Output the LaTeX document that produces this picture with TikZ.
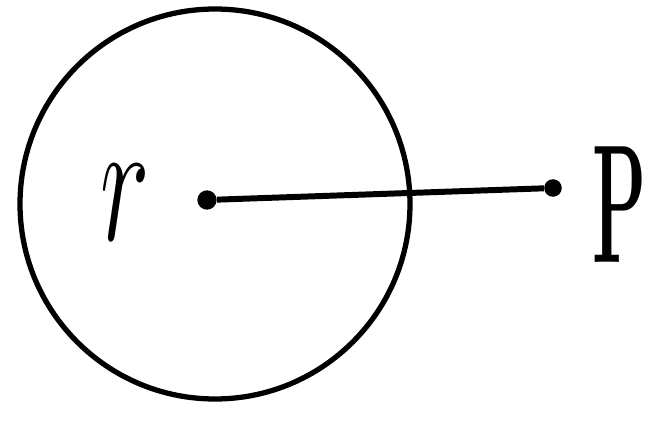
\documentclass[tikz,border=0pt]{standalone}
\usepackage{fix-cm}
\usetikzlibrary{positioning}
\begin{document}
\begin{tikzpicture}[
    x=0.02cm, y=-0.02cm,
    rim/.style={draw, line width=3pt},
    rod/.style={line width=3.4pt},
    dot/.style={circle, fill, inner sep=0pt, minimum size=11pt},
    lbl/.style={inner sep=0pt, font=\fontsize{80}{80}\selectfont},
  ]
  \useasboundingbox (0,0) rectangle (654,426);
  % --- circle with its centre ---
  \draw[rim] (215,204) circle[radius=195];
  \node[dot] (ctr) at (207,200) {};
  \node[lbl] (rlab) at (125,203) {\scalebox{0.75}[1.25]{$r$}};
  % --- radius line out to the point ---
  \node[dot, minimum size=10pt] (pt) at (553,188) {};
  \node[lbl] (plab) at (620,205) {\scalebox{0.5}[1.2]{\bfseries P}};
  \draw[rod] (ctr) -- (pt);
\end{tikzpicture}
\end{document}
